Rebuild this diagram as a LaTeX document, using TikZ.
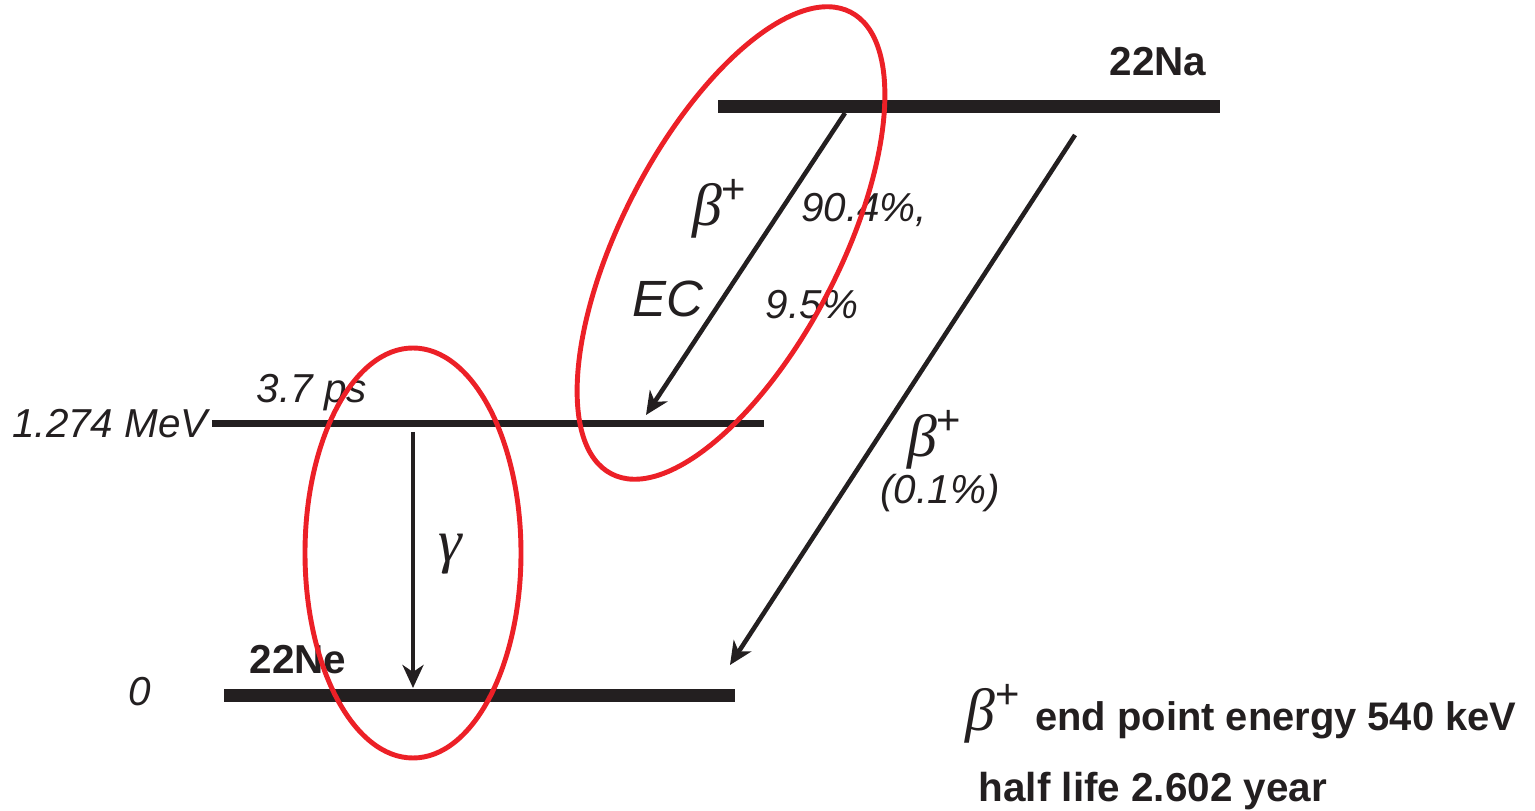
\documentclass[tikz,border=0pt]{standalone}
\usepackage{fontspec}
\setmainfont{Liberation Sans}
\newfontfamily\greekfont{Liberation Serif}
\usetikzlibrary{arrows.meta,positioning}
\definecolor{ringred}{RGB}{236,32,39}
\definecolor{levelblack}{RGB}{35,31,32}
\newcommand{\betaplus}{{\greekfont\itshape β}\textsuperscript{\normalfont +}}

\begin{document}
\begin{tikzpicture}[
  level/.style={line width=3.7pt,draw=levelblack},
  midlevel/.style={line width=2pt,draw=levelblack},
  decay/.style={-{Stealth[length=2.3mm,width=2.1mm,inset=0.7mm]},line width=1.3pt,draw=levelblack},
  ring/.style={draw=ringred,line width=1.4pt},
  nuc/.style={font=\fontsize{11.5}{13}\selectfont\bfseries,text=levelblack,inner sep=0pt},
  val/.style={font=\fontsize{11.5}{13}\selectfont\itshape,text=levelblack,inner sep=0pt},
  greek/.style={font=\fontsize{17}{19}\selectfont,text=levelblack,inner sep=0pt}
]
\useasboundingbox (0,0) rectangle (15.35,8.11);

\coordinate (na-l) at (7.18,7.045);
\coordinate (na-r) at (12.20,7.045);
\coordinate (ex-l) at (2.12,3.875);
\coordinate (ex-r) at (7.64,3.875);
\coordinate (gs-l) at (2.24,1.15);
\coordinate (gs-r) at (7.35,1.15);
\coordinate (ec-top) at (8.45,6.98);
\coordinate (ec-end) at (6.46,3.96);
\coordinate (bp-top) at (10.75,6.76);
\coordinate (bp-end) at (7.30,1.46);
\coordinate (g-top) at (4.13,3.79);
\coordinate (g-end) at (4.13,1.23);

\node[nuc] (na) at (11.58,7.49) {22Na};
\node[nuc] (ne) at (2.98,1.51) {22Ne};
\node[val,left=1pt of ex-l] (eex) {1.274 MeV};
\node[val] (tau) at (3.12,4.18) {3.7 ps};
\node[val] (e0) at (1.40,1.19) {0};
\node[greek] (bpa) at (7.20,6.02) {\betaplus};
\node[val] (bpa-pc) at (8.64,6.01) {90.4\%,};
\node[font=\fontsize{14.5}{16}\selectfont\itshape,text=levelblack,inner sep=0pt] (ec) at (6.68,5.12) {EC};
\node[val] (ec-pc) at (8.12,5.06) {9.5\%};
\node[greek] (bpb) at (9.35,3.71) {\betaplus};
\node[val] (bpb-pc) at (9.40,3.18) {(0.1\%)};
\node[greek] (gam) at (4.50,2.57) {\greekfont\itshape γ};
\node[nuc,font=\fontsize{11.35}{13}\selectfont\bfseries,anchor=base west] (endpt) at (9.65,0.80) {{\fontsize{17}{19}\selectfont\mdseries\betaplus}\hspace{3.9pt}end point energy 540 keV};
\node[nuc,anchor=base west] (half) at (9.78,0.09) {half life 2.602 year};

\draw[level] (na-l) -- (na-r);
\draw[midlevel] (ex-l) -- (ex-r);
\draw[level] (gs-l) -- (gs-r);
\draw[decay] (ec-top) -- (ec-end);
\draw[decay] (bp-top) -- (bp-end);
\draw[decay] (g-top) -- (g-end);

\draw[ring] (4.13,2.58) ellipse [x radius=1.08, y radius=2.05];
\draw[ring,rotate around={62.6:(7.31,5.68)}] (7.31,5.68) ellipse [x radius=2.60, y radius=1.09];
\end{tikzpicture}
\end{document}
